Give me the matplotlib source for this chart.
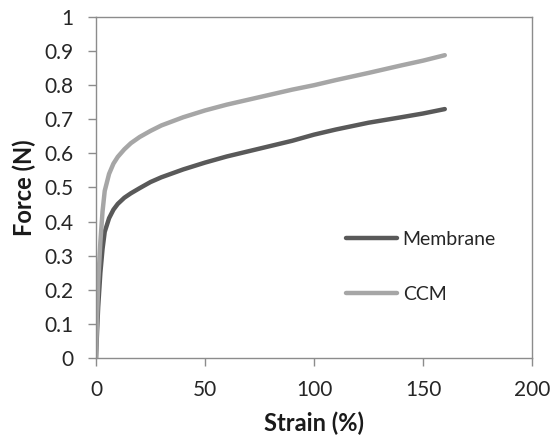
import matplotlib
matplotlib.use("agg")
import matplotlib.pyplot as plt

plt.rcParams['font.family'] = ['Lato', 'DejaVu Sans']

# tensile test curves, strain (%) vs force (N)
strain = [0, 0.5, 1, 2, 3, 4, 6, 8, 10, 13, 16, 20, 25, 30, 40, 50, 60, 75, 90, 100, 110, 125, 140, 150, 160]
membrane = [0, 0.08, 0.15, 0.25, 0.32, 0.37, 0.41, 0.435, 0.452, 0.47, 0.483, 0.498, 0.516, 0.53, 0.553,
            0.573, 0.591, 0.614, 0.637, 0.655, 0.67, 0.69, 0.706, 0.717, 0.73]
ccm = [0, 0.12, 0.22, 0.34, 0.43, 0.49, 0.54, 0.57, 0.59, 0.612, 0.63, 0.648, 0.666, 0.682, 0.706,
       0.726, 0.743, 0.765, 0.787, 0.80, 0.815, 0.836, 0.858, 0.872, 0.888]

xticks = [0, 50, 100, 150, 200]
yticks = [0, 0.1, 0.2, 0.3, 0.4, 0.5, 0.6, 0.7, 0.8, 0.9, 1]
ytick_labels = ['0', '0.1', '0.2', '0.3', '0.4', '0.5', '0.6', '0.7', '0.8', '0.9', '1']

fig = plt.figure(figsize=(5.53, 4.43), dpi=100)
ax = fig.add_axes([0.1736, 0.1919, 0.7884, 0.7697])

ax.plot(strain, membrane, color='#595959', lw=3.2, solid_capstyle='round', label='Membrane')
ax.plot(strain, ccm, color='#a6a6a6', lw=3.2, solid_capstyle='round', label='CCM')

ax.set_xlim(0, 200)
ax.set_ylim(0, 1)
ax.set_xticks(xticks)
ax.set_yticks(yticks)
ax.set_yticklabels(ytick_labels)

for s in ax.spines.values():
    s.set_color('#8c8c8c')
    s.set_linewidth(1.0)
ax.tick_params(direction='out', length=6, width=1, color='#8c8c8c',
               labelsize=15, labelcolor='#262626')
ax.tick_params(axis='x', pad=10)
ax.tick_params(axis='y', pad=10)

ax.set_xlabel('Strain (%)', fontsize=17, fontweight='bold', color='#1a1a1a', labelpad=8)
ax.set_ylabel('Force (N)', fontsize=17, fontweight='bold', color='#1a1a1a', labelpad=6)

ax.legend(frameon=False, loc='upper left', bbox_to_anchor=(0.534, 0.425), fontsize=14,
          handlelength=2.6, handletextpad=0.3, labelspacing=1.96, labelcolor='#262626')

plt.savefig('out.png', dpi=100)
plt.close()
